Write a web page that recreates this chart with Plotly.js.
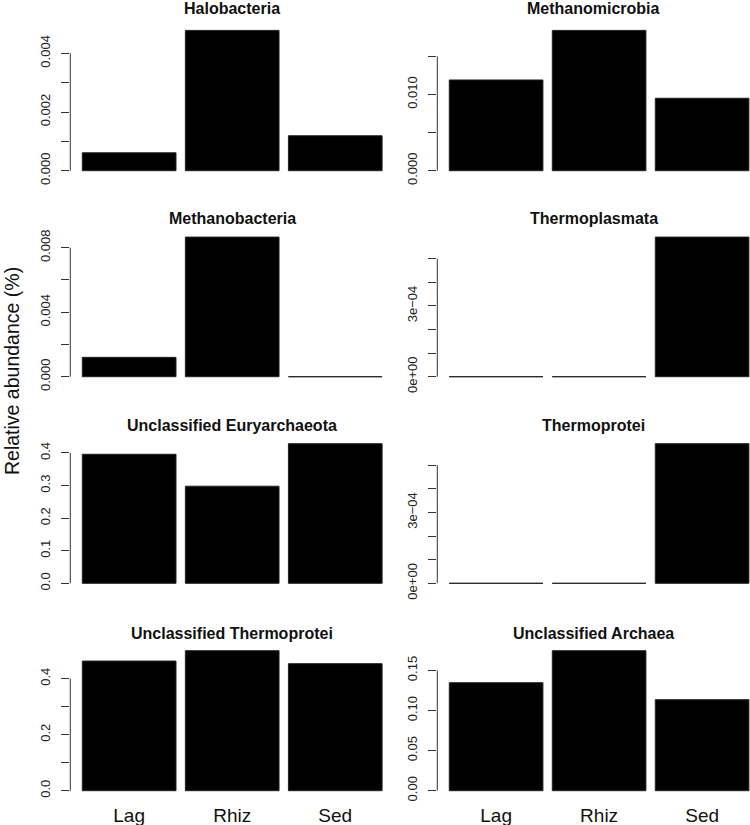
<!DOCTYPE html>
<html>
<head>
<meta charset="utf-8">
<script src="https://cdn.plot.ly/plotly-3.0.1.min.js"></script>
<style>html,body{margin:0;padding:0;background:#fff;}#chart{width:750px;height:825px;}</style>
</head>
<body>
<div id="chart"></div>
<script>
// ---- data ----
var groups = ["Lag", "Rhiz", "Sed"];
var panelTitles = ["Halobacteria", "Methanomicrobia", "Methanobacteria", "Thermoplasmata",
                   "Unclassified Euryarchaeota", "Thermoprotei", "Unclassified Thermoprotei", "Unclassified Archaea"];
var halobacteria = [0.00061, 0.00478, 0.00119];
var methanomicrobia = [0.0119, 0.0184, 0.0095];
var methanobacteria = [0.0012, 0.00866, 0];
var thermoplasmata = [0, 0, 0.000592];
var unclEuryarchaeota = [0.396, 0.298, 0.4285];
var thermoprotei = [0, 0, 0.000591];
var unclThermoprotei = [0.463, 0.500, 0.4536];
var unclArchaea = [0.1347, 0.1746, 0.1135];
var seriesList = [halobacteria, methanomicrobia, methanobacteria, thermoplasmata,
                  unclEuryarchaeota, thermoprotei, unclThermoprotei, unclArchaea];
// tick values and labels (R pretty() style)
var tickVals = [
  [0, 0.001, 0.002, 0.003, 0.004],
  [0, 0.005, 0.010, 0.015],
  [0, 0.002, 0.004, 0.006, 0.008],
  [0, 1e-4, 2e-4, 3e-4, 4e-4, 5e-4],
  [0, 0.1, 0.2, 0.3, 0.4],
  [0, 1e-4, 2e-4, 3e-4, 4e-4, 5e-4],
  [0, 0.1, 0.2, 0.3, 0.4],
  [0, 0.05, 0.10, 0.15]
];
var tickText = [
  ["0.000", "", "0.002", "", "0.004"],
  ["0.000", "", "0.010", ""],
  ["0.000", "", "0.004", "", "0.008"],
  ["0e+00", "", "", "3e\u221204", "", ""],
  ["0.0", "0.1", "0.2", "0.3", "0.4"],
  ["0e+00", "", "", "3e\u221204", "", ""],
  ["0.0", "", "0.2", "", "0.4"],
  ["0.00", "0.05", "0.10", "0.15"]
];
var yTitle = "Relative abundance (%)";

// ---- layout geometry ----
var W = 750, H = 825;
var colX = [[70.3 / W, 394.1 / W], [437.3 / W, 1]];
var colRange = [[-0.571, 2.571], [-0.571, 2.465]];
var rowPix = [[24.8, 176.3], [231.5, 382.3], [438.1, 588.9], [645.1, 796.3]];
var titleBase = [18.5, 229, 436.5, 644];
var font = "Liberation Sans, Arial, Helvetica, sans-serif";

var data = [], shapes = [], annotations = [];
var layout = {
  width: W, height: H,
  margin: {l: 0, r: 0, t: 0, b: 0},
  paper_bgcolor: "#fff", plot_bgcolor: "#fff",
  showlegend: false,
  bargap: 0.0909,
  font: {family: font, color: "#111"}
};

for (var i = 0; i < 8; i++) {
  var row = Math.floor(i / 2), col = i % 2;
  var n = i + 1;
  var xa = "x" + (n === 1 ? "" : n), ya = "y" + (n === 1 ? "" : n);
  var xkey = "xaxis" + (n === 1 ? "" : n), ykey = "yaxis" + (n === 1 ? "" : n);
  var vals = seriesList[i];
  var maxV = Math.max.apply(null, vals);
  data.push({
    type: "bar", x: groups, y: vals, xaxis: xa, yaxis: ya,
    marker: {color: "#000", line: {color: "#222", width: 1}},
    hoverinfo: "x+y"
  });
  var yd = [1 - rowPix[row][1] / H, 1 - rowPix[row][0] / H];
  layout[xkey] = {
    domain: colX[col], anchor: ya, type: "category",
    range: colRange[col], showgrid: false, zeroline: false, showline: false,
    ticks: "", showticklabels: row === 3,
    tickfont: {family: font, size: 19, color: "#111"},
    ticklabelstandoff: 6
  };
  layout[ykey] = {
    domain: yd, anchor: xa,
    range: [-0.04 * maxV, 1.04 * maxV],
    showgrid: false, zeroline: false, showline: false,
    tickmode: "array", tickvals: tickVals[i], ticktext: tickText[i],
    ticks: "outside", ticklen: 8, tickwidth: 1, tickcolor: "#333",
    tickangle: -90, ticklabelstandoff: 6,
    tickfont: {family: font, size: 13, color: "#222"}
  };
  var tv = tickVals[i];
  shapes.push({
    type: "line", xref: xa + " domain", yref: ya,
    x0: 0, x1: 0, y0: tv[0], y1: tv[tv.length - 1],
    line: {color: "#333", width: 1}
  });
  annotations.push({
    text: "<b>" + panelTitles[i] + "</b>",
    xref: xa + " domain", yref: "paper",
    x: 0.5, y: 1 - titleBase[row] / H,
    xanchor: "center", yanchor: "bottom", showarrow: false,
    font: {family: font, size: 16, color: "#111"}
  });
}
annotations.push({
  text: yTitle, xref: "paper", yref: "paper",
  x: 12 / W, y: 1 - 371 / H, xanchor: "center", yanchor: "middle",
  textangle: -90, showarrow: false,
  font: {family: font, size: 19.5, color: "#111"}
});
layout.shapes = shapes;
layout.annotations = annotations;

Plotly.newPlot("chart", data, layout, {displayModeBar: false, staticPlot: true});
</script>
</body>
</html>
